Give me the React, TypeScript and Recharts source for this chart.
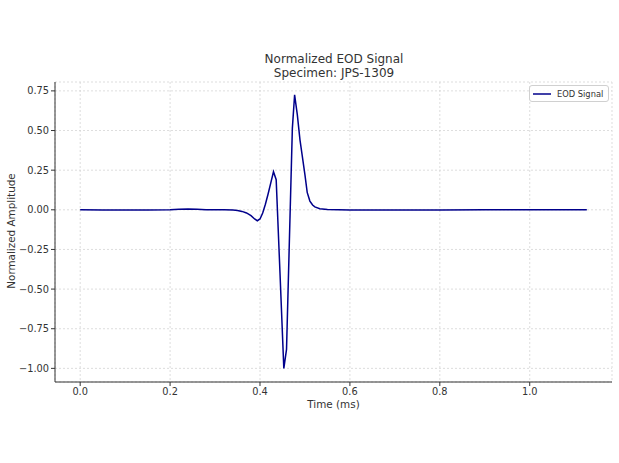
import React from "react"
import { LineChart, Line, XAxis, YAxis, CartesianGrid } from "recharts"

const timeMs = [
  0, 0.05, 0.1, 0.15, 0.2, 0.22, 0.24, 0.26, 0.28, 0.3, 0.32, 0.34, 0.35, 0.36, 0.37, 0.38,
  0.388, 0.394, 0.4, 0.406, 0.412, 0.418, 0.424, 0.43, 0.436, 0.4445, 0.453, 0.459, 0.4655,
  0.472, 0.477, 0.483, 0.489, 0.494, 0.5, 0.505, 0.511, 0.517, 0.522, 0.533, 0.55, 0.6, 0.7,
  0.8, 0.9, 1.0, 1.05, 1.1, 1.127,
]

const amplitude = [
  0, -0.001, -0.001, -0.001, 0, 0.003, 0.005, 0.004, 0.001, 0, 0, -0.002, -0.005, -0.01, -0.02,
  -0.037, -0.058, -0.069, -0.058, -0.02, 0.035, 0.1, 0.17, 0.24, 0.19, -0.4, -1.0, -0.88, -0.18,
  0.515, 0.725, 0.6, 0.44, 0.34, 0.22, 0.11, 0.055, 0.03, 0.018, 0.007, 0.002, -0.001, -0.001,
  -0.001, 0, 0, 0, 0.001, 0,
]

const xTicks = [0, 0.2, 0.4, 0.6, 0.8, 1.0]
const yTicks = [-1.0, -0.75, -0.5, -0.25, 0, 0.25, 0.5, 0.75]

const titleLines = ["Normalized EOD Signal", "Specimen: JPS-1309"]
const seriesName = "EOD Signal"

const data = timeMs.map((t, i) => ({ t, amp: amplitude[i] }))

const FONT = "DejaVu Sans, Noto Sans, sans-serif"
const INK = "#333333"
const LINE_COLOR = "#00008b"

function fmtY(v: number) {
  const s = Math.abs(v).toFixed(2)
  return v < 0 ? `\u2212${s}` : s
}

// legend drawn outside the chart so it doesn't eat plot height
function LegendBox() {
  return (
    <div
      style={{
        position: "absolute",
        left: 529,
        top: 85,
        width: 80,
        height: 17,
        border: "1px solid #d0d0d0",
        borderRadius: 3,
        background: "rgba(255,255,255,0.8)",
        display: "flex",
        alignItems: "center",
        boxSizing: "border-box",
      }}
    >
      <svg width={21} height={14} style={{ marginLeft: 3 }}>
        <line x1={0} y1={7} x2={18} y2={7} stroke={LINE_COLOR} strokeWidth={1.5} />
      </svg>
      <span style={{ fontFamily: FONT, fontSize: 8.3, color: INK, marginLeft: 3, whiteSpace: "nowrap" }}>
        {seriesName}
      </span>
    </div>
  )
}

export default function App() {
  return (
    <div style={{ position: "absolute", left: 0, top: 0, width: 619, height: 463, background: "#fff" }}>
      <LineChart width={619} height={463} data={data} margin={{ top: 82, right: 7, left: 5, bottom: 51 }}>
        <CartesianGrid stroke="#d4d4d4" strokeDasharray="2 2" strokeWidth={0.8} />
        <XAxis
          dataKey="t"
          type="number"
          domain={[-0.056, 1.183]}
          ticks={xTicks}
          allowDataOverflow
          tickFormatter={(v: number) => v.toFixed(1)}
          tick={{ fontSize: 9.8, fontFamily: FONT, fill: INK }}
          tickSize={4}
          height={30}
          axisLine={{ stroke: INK }}
          tickLine={{ stroke: INK }}
        />
        <YAxis
          type="number"
          domain={[-1.086, 0.806]}
          ticks={yTicks}
          allowDataOverflow
          tickFormatter={fmtY}
          tick={{ fontSize: 9.8, fontFamily: FONT, fill: INK }}
          tickSize={4}
          width={50}
          axisLine={{ stroke: INK }}
          tickLine={{ stroke: INK }}
        />
        <Line
          type="linear"
          dataKey="amp"
          name={seriesName}
          stroke={LINE_COLOR}
          strokeWidth={1.5}
          dot={false}
          isAnimationActive={false}
        />
      </LineChart>
      <LegendBox />
      <svg
        width={619}
        height={463}
        style={{ position: "absolute", left: 0, top: 0, pointerEvents: "none" }}
      >
        <text x={334} y={63} textAnchor="middle" fontSize={12} fontFamily={FONT} fill={INK}>
          {titleLines[0]}
        </text>
        <text x={334} y={77} textAnchor="middle" fontSize={12} fontFamily={FONT} fill={INK}>
          {titleLines[1]}
        </text>
        <text x={333.5} y={408} textAnchor="middle" fontSize={10.4} fontFamily={FONT} fill={INK}>
          Time (ms)
        </text>
        <text
          x={15}
          y={231}
          textAnchor="middle"
          fontSize={10.4}
          fontFamily={FONT}
          fill={INK}
          transform="rotate(-90 15 231)"
        >
          Normalized Amplitude
        </text>
      </svg>
    </div>
  )
}
